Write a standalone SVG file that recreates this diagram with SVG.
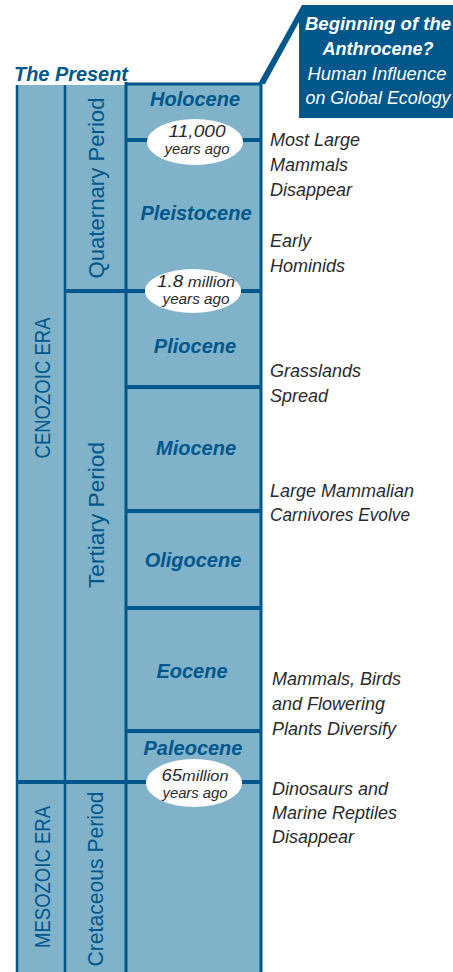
<svg xmlns="http://www.w3.org/2000/svg" width="453" height="972" viewBox="0 0 453 972">
<style>
.fill{fill:#80b2ca}
.ln{stroke:#00578c;fill:none}
.bl{fill:#00578c}
.epoch{font-family:"Liberation Sans",Arial,sans-serif;font-weight:bold;font-style:italic;font-size:20px;fill:#00578c;text-anchor:middle}
.vert{font-family:"Liberation Sans",Arial,sans-serif;font-size:22px;fill:#00578c;text-anchor:middle}
.note{font-family:"Liberation Sans",Arial,sans-serif;font-style:italic;font-size:18px;fill:#2b2b2b}
.oval{fill:#ffffff}
.ot{font-family:"Liberation Sans",Arial,sans-serif;font-style:italic;fill:#2b2b2b;text-anchor:middle}
.call{font-family:"Liberation Sans",Arial,sans-serif;font-style:italic;font-size:18px;fill:#ffffff;text-anchor:middle}
</style>
<rect width="453" height="972" fill="#ffffff"/>

<g id="title">
<text x="14" y="81" font-family="Liberation Sans, Arial, sans-serif" font-weight="bold" font-style="italic" font-size="20" fill="#00578c" textLength="114" lengthAdjust="spacingAndGlyphs">The Present</text>
</g>

<g id="callout">
<polygon class="bl" points="302,5 453,5 453,118 299,118 299,22 265,84 258,84"/>
<text class="call" x="378" y="30" font-weight="bold" textLength="146" lengthAdjust="spacingAndGlyphs">Beginning of the</text>
<text class="call" x="378" y="55" font-weight="bold">Anthrocene?</text>
<text class="call" x="377" y="80" textLength="139" lengthAdjust="spacingAndGlyphs">Human Influence</text>
<text class="call" x="378" y="104" textLength="145" lengthAdjust="spacingAndGlyphs">on Global Ecology</text>
</g>

<g id="column">
<rect class="fill" x="17" y="85" width="244" height="890"/>
<rect class="fill" x="126" y="83" width="135" height="4"/>
</g>

<g id="connectors">
<line class="ln" x1="17" y1="85" x2="17" y2="972" stroke-width="2.5"/>
<line class="ln" x1="65" y1="85" x2="65" y2="972" stroke-width="2.5"/>
<line class="ln" x1="126" y1="82" x2="126" y2="972" stroke-width="3"/>
<line class="ln" x1="261" y1="82" x2="261" y2="972" stroke-width="3"/>
<line class="ln" x1="126" y1="84" x2="262" y2="84" stroke-width="3"/>
<line class="ln" x1="126" y1="140" x2="261" y2="140" stroke-width="4"/>
<line class="ln" x1="65" y1="291" x2="261" y2="291" stroke-width="4"/>
<line class="ln" x1="126" y1="387" x2="261" y2="387" stroke-width="4"/>
<line class="ln" x1="126" y1="511" x2="261" y2="511" stroke-width="4"/>
<line class="ln" x1="126" y1="608" x2="261" y2="608" stroke-width="4"/>
<line class="ln" x1="126" y1="731" x2="261" y2="731" stroke-width="4"/>
<line class="ln" x1="17" y1="782" x2="261" y2="782" stroke-width="4"/>
</g>

<g id="era-cenozoic"><text class="vert" transform="translate(50,388) rotate(-90)" textLength="141" lengthAdjust="spacingAndGlyphs">CENOZOIC ERA</text></g>
<g id="era-mesozoic"><text class="vert" transform="translate(50,877) rotate(-90)" textLength="142" lengthAdjust="spacingAndGlyphs">MESOZOIC ERA</text></g>
<g id="period-quaternary"><text class="vert" transform="translate(104,188) rotate(-90)" textLength="181" lengthAdjust="spacingAndGlyphs">Quaternary Period</text></g>
<g id="period-tertiary"><text class="vert" transform="translate(104,515) rotate(-90)" textLength="146" lengthAdjust="spacingAndGlyphs">Tertiary Period</text></g>
<g id="period-cretaceous"><text class="vert" transform="translate(103,879) rotate(-90)" textLength="175" lengthAdjust="spacingAndGlyphs">Cretaceous Period</text></g>

<g id="epoch-holocene"><text class="epoch" x="195" y="106">Holocene</text></g>
<g id="epoch-pleistocene"><text class="epoch" x="196" y="220">Pleistocene</text></g>
<g id="epoch-pliocene"><text class="epoch" x="195" y="353">Pliocene</text></g>
<g id="epoch-miocene"><text class="epoch" x="196" y="455">Miocene</text></g>
<g id="epoch-oligocene"><text class="epoch" x="193" y="567">Oligocene</text></g>
<g id="epoch-eocene"><text class="epoch" x="192" y="678">Eocene</text></g>
<g id="epoch-paleocene"><text class="epoch" x="193" y="755">Paleocene</text></g>

<g id="oval-11000">
<ellipse class="oval" cx="195" cy="142" rx="48" ry="23"/>
<text class="ot" x="197" y="137" font-size="17" textLength="57" lengthAdjust="spacingAndGlyphs">11,000</text>
<text class="ot" x="197" y="154" font-size="14" textLength="65" lengthAdjust="spacingAndGlyphs">years ago</text>
</g>
<g id="oval-1-8">
<ellipse class="oval" cx="193" cy="291" rx="48" ry="22"/>
<text class="ot" x="196" y="287" font-size="15" textLength="78" lengthAdjust="spacingAndGlyphs"><tspan font-size="17">1.8</tspan> million</text>
<text class="ot" x="196" y="304" font-size="14" textLength="67" lengthAdjust="spacingAndGlyphs">years ago</text>
</g>
<g id="oval-65">
<ellipse class="oval" cx="194" cy="783" rx="48" ry="24"/>
<text class="ot" x="195" y="781" font-size="15" textLength="67" lengthAdjust="spacingAndGlyphs"><tspan font-size="17">65</tspan>million</text>
<text class="ot" x="195" y="798" font-size="14" textLength="65" lengthAdjust="spacingAndGlyphs">years ago</text>
</g>

<g id="note-mammals-disappear">
<text class="note" x="270" y="146">Most Large</text>
<text class="note" x="270" y="171">Mammals</text>
<text class="note" x="270" y="196">Disappear</text>
</g>
<g id="note-hominids">
<text class="note" x="270" y="247">Early</text>
<text class="note" x="270" y="272">Hominids</text>
</g>
<g id="note-grasslands">
<text class="note" x="270" y="377">Grasslands</text>
<text class="note" x="270" y="402">Spread</text>
</g>
<g id="note-carnivores">
<text class="note" x="270" y="497" textLength="144" lengthAdjust="spacingAndGlyphs">Large Mammalian</text>
<text class="note" x="270" y="521" textLength="140" lengthAdjust="spacingAndGlyphs">Carnivores Evolve</text>
</g>
<g id="note-diversify">
<text class="note" x="272" y="685">Mammals, Birds</text>
<text class="note" x="272" y="710">and Flowering</text>
<text class="note" x="272" y="735">Plants Diversify</text>
</g>
<g id="note-dinosaurs">
<text class="note" x="272" y="795">Dinosaurs and</text>
<text class="note" x="272" y="819">Marine Reptiles</text>
<text class="note" x="272" y="843">Disappear</text>
</g>
</svg>
